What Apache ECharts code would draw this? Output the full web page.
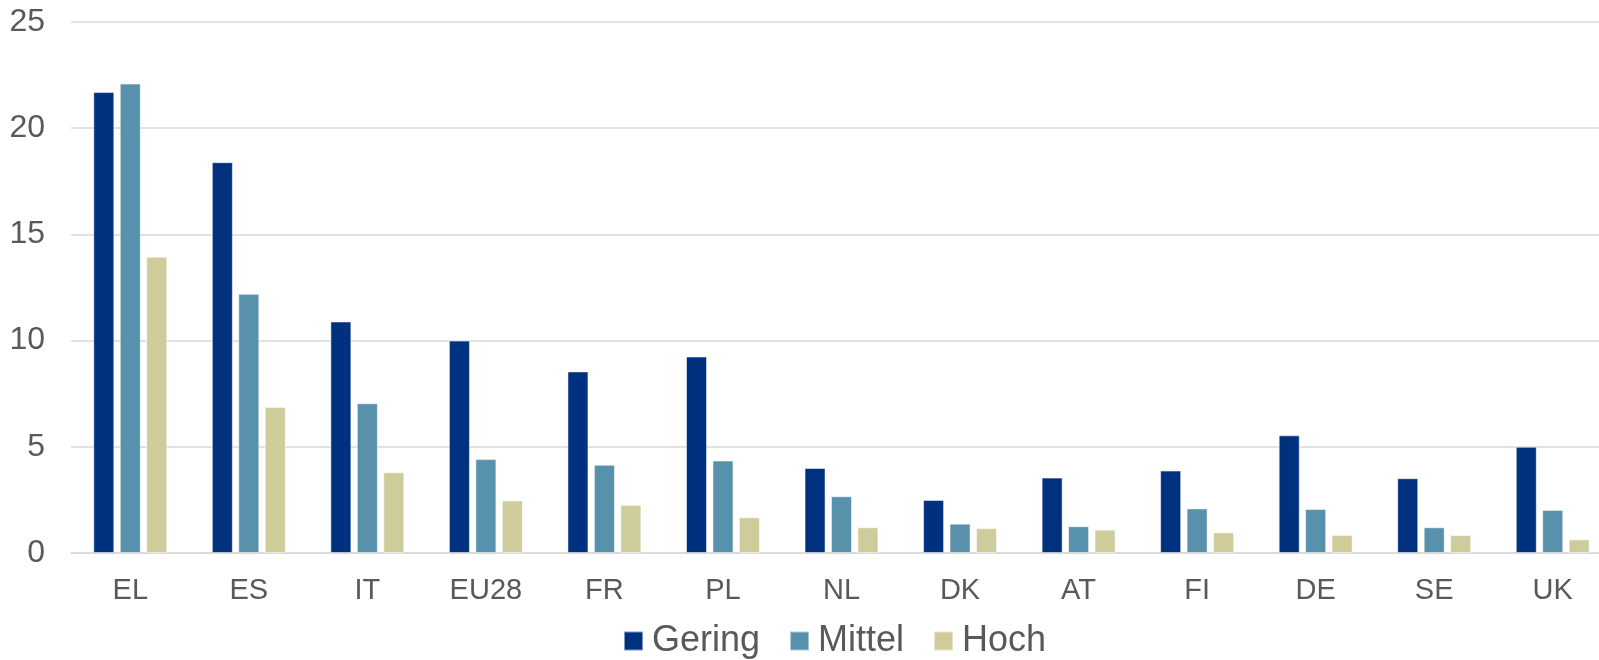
<!DOCTYPE html>
<html>
<head>
<meta charset="utf-8">
<script src="https://cdn.jsdelivr.net/npm/echarts@6/dist/echarts.min.js"></script>
<style>
  html, body { margin: 0; padding: 0; background: #fff; overflow: hidden; }
  #chart { width: 1612px; height: 660px; }
</style>
</head>
<body>
<div id="chart"></div>
<script>
// Länder
const categories = ['EL', 'ES', 'IT', 'EU28', 'FR', 'PL', 'NL', 'DK', 'AT', 'FI', 'DE', 'SE', 'UK']
const gering = [21.7, 18.4, 10.9, 10.0, 8.55, 9.25, 4.0, 2.5, 3.55, 3.88, 5.54, 3.52, 5.0]
const mittel = [22.1, 12.2, 7.05, 4.42, 4.15, 4.35, 2.67, 1.38, 1.26, 2.1, 2.07, 1.21, 2.03]
const hoch = [13.95, 6.87, 3.8, 2.47, 2.26, 1.68, 1.21, 1.17, 1.1, 0.97, 0.85, 0.84, 0.64]
const yTicks = [0, 5, 10, 15, 20, 25]

const font = '"Liberation Sans", Arial, sans-serif'
const textColor = '#595959'

const chart = echarts.init(document.getElementById('chart'))

const mkSeries = (name, data, color) => ({
    name: name,
    type: 'bar',
    data: data,
    barWidth: 21,
    barGap: '26%',
    itemStyle: { color: color, borderColor: 'rgba(255,255,255,0.5)', borderWidth: 1 }
})

chart.setOption({
    animation: false,
    textStyle: { fontFamily: font },
    // plot runs past the right edge of the window, like in the source
    grid: { left: 71, top: 22, bottom: 107, right: 0 },
    legend: {
        left: 618,
        top: 618,
        icon: 'rect',
        itemWidth: 19,
        itemHeight: 19,
        itemGap: 29,
        textStyle: { fontSize: 36, color: textColor, fontFamily: font, padding: [0, 0, 0, 4] },
        data: ['Gering', 'Mittel', 'Hoch']
    },
    xAxis: {
        type: 'category',
        data: categories,
        axisLine: { lineStyle: { color: '#d9d9d9', width: 1.5 } },
        axisTick: { show: false },
        axisLabel: { fontSize: 29, color: textColor, margin: 23, fontFamily: font }
    },
    yAxis: {
        type: 'value',
        min: yTicks[0],
        max: yTicks[yTicks.length - 1],
        interval: 5,
        axisLine: { show: false },
        axisTick: { show: false },
        axisLabel: { fontSize: 32, color: textColor, margin: 26, fontFamily: font },
        splitLine: { lineStyle: { color: '#d9d9d9', width: 1.5 } }
    },
    series: [
        mkSeries('Gering', gering, '#00317f'),
        mkSeries('Mittel', mittel, '#5891ac'),
        mkSeries('Hoch', hoch, '#cecc9b')
    ]
})
</script>
</body>
</html>
